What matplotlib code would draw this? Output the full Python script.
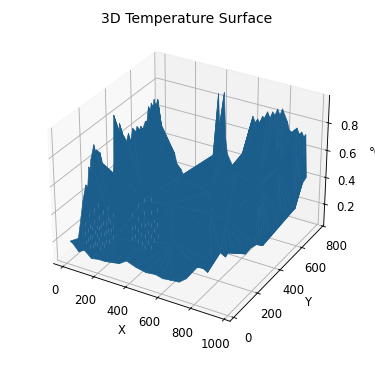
import numpy as np
import matplotlib
matplotlib.use("Agg")
import matplotlib.pyplot as plt

# edge of the surface
left_y = [31, 92, 118, 135, 161, 175, 188, 196, 205, 231, 240, 248, 275, 292, 318, 344, 362, 379, 388, 414, 422, 431,
          448, 457, 466, 483, 500, 518, 535, 553, 570, 588, 601, 614, 640, 653, 666, 680, 690, 701, 714, 727, 745, 770]
left_z = [.18, .15, .29, .39, .49, .46, .60, .56, .64, .73, .62, .68, .64, .55, .48, .40, .33, .48, .83, .72, .62, .74,
          .67, .60, .62, .57, .62, .55, .63, .56, .62, .56, .60, .56, .61, .60, .70, .64, .71, .65, .72, .66, .70, .52]

back_x = [18, 30, 43, 61, 79, 91, 110, 122, 134, 160, 183, 208, 232, 256, 280, 305, 330, 354, 366, 378, 390, 396, 415, 427,
          439, 470, 500, 518, 543, 561, 579, 598, 613, 628, 644, 659, 674, 689, 705, 720, 735, 750, 765, 780, 795, 811, 826, 841, 856, 872, 887, 902, 915, 927, 940]
back_z = [.36, .26, .20, .17, .25, .30, .21, .18, .19, .13, .15, .12, .13, .23, .24, .30, .32, .38, .46, .84, .51, .53, .86, .52,
          .41, .34, .29, .36, .46, .55, .65, .74, .70, .73, .70, .76, .74, .80, .76, .81, .79, .84, .80, .85, .81, .77, .71, .70, .72, .74, .70, .72, .69, .71, .40]

right_x = [699, 720, 734, 740, 746, 765, 775, 785, 793, 800, 805, 816, 821, 826, 836, 841, 846, 851, 856, 862, 869, 875, 883, 891, 899, 908, 918, 924, 932]
right_y = [71, 131, 172, 190, 208, 261, 292, 320, 344, 364, 379, 409, 425, 438, 468, 483, 498, 512, 527, 544, 563, 581, 604, 628, 652, 678, 705, 723, 746]
right_z = [.13, .17, .13, .09, .165, .185, .13, .175, .125, .15, .10, .07, .12, .095, .10, .14, .10, .06, .10, .13, .10, .20, .23, .17, .21, .24, .21, .28, .37]

front_x = [18, 54, 90, 135, 180, 225, 270, 311, 359, 419, 480, 539, 585, 629, 685]
front_z = [.167, .12, .145, .10, .11, .11, .12, .127, .165, .14, .125, .133, .12, .127, .133]

# a few points inside
inner_x = [150, 170, 330, 350, 520, 600, 700, 760, 450, 250, 620, 820]
inner_y = [200, 400, 220, 400, 200, 400, 400, 600, 600, 600, 600, 680]
inner_z = [.12, .25, .13, .28, .22, .30, .28, .40, .25, .30, .45, .50]

# pale gaps in the two low basins at the front
gap_x = [40, 40, 40, 70, 70, 70, 70, 100, 100, 100, 100, 130, 130, 130, 130, 130, 160, 160, 160, 160,
         190, 190, 190, 190, 220, 220, 220, 340, 340, 340, 380, 380, 380, 380, 420, 420, 420, 420, 420,
         460, 460, 460, 460, 460, 500, 500, 500,
         55, 55, 85, 85, 85, 115, 115, 115, 145, 145, 145, 175, 175, 175, 205, 205,
         360, 360, 400, 400, 400, 440, 440, 440, 480, 480, 480]
gap_z = [.20, .133, .267, .345, .258, .178, .11, .387, .307, .227, .147, .433, .347, .267, .187, .12, .396, .316, .236, .156,
         .433, .353, .273, .193, .397, .31, .23, .44, .34, .27, .52, .42, .34, .26, .57, .48, .39, .31, .23,
         .59, .50, .41, .33, .25, .53, .43, .34,
         .226, .159, .25, .183, .117, .273, .207, .14, .297, .231, .164, .321, .255, .188, .345, .279,
         .359, .293, .387, .32, .253, .413, .347, .28, .441, .375, .308]
gap_y = 100

xticks = [0, 200, 400, 600, 800, 1000]
yticks = [0, 200, 400, 600, 800]
zticks = [0.2, 0.4, 0.6, 0.8]

x = np.concatenate([np.zeros(len(left_y)), back_x, right_x, front_x, inner_x])
y = np.concatenate([left_y, np.full(len(back_x), 770), right_y, np.full(len(front_x), 31), inner_y])
z = np.concatenate([left_z, back_z, right_z, front_z, inner_z])

plt.rcParams["font.size"] = 10.5

fig = plt.figure(figsize=(375 / 80, 366 / 80), dpi=80)
ax = fig.add_axes([0.08, 0.068, 0.837, 0.858], projection="3d")
ax.computed_zorder = False

ax.plot_trisurf(x, y, z, color="#1b5e8c", shade=False, linewidth=0.6, edgecolor="#1b5e8c", zorder=1)
ax.scatter(gap_x, np.full(len(gap_x), gap_y), gap_z, marker="|", s=9, linewidths=0.6,
           color="#5f93b6", alpha=0.6, depthshade=False, zorder=2)

ax.set_xticks(xticks)
ax.set_yticks(yticks)
ax.set_zticks(zticks)
ax.set_xlim(-60, 1035)
ax.set_ylim(-30, 810)
ax.set_zlim(0.04, 0.995)
ax.set_xlabel("X")
ax.set_ylabel("Y")
ax.set_title("3D Temperature Surface", fontsize=12.6, pad=4)

fig.text(369 / 375, 1 - 152 / 366, "°C", ha="left", va="center")

fig.savefig("out.png", dpi=80)
